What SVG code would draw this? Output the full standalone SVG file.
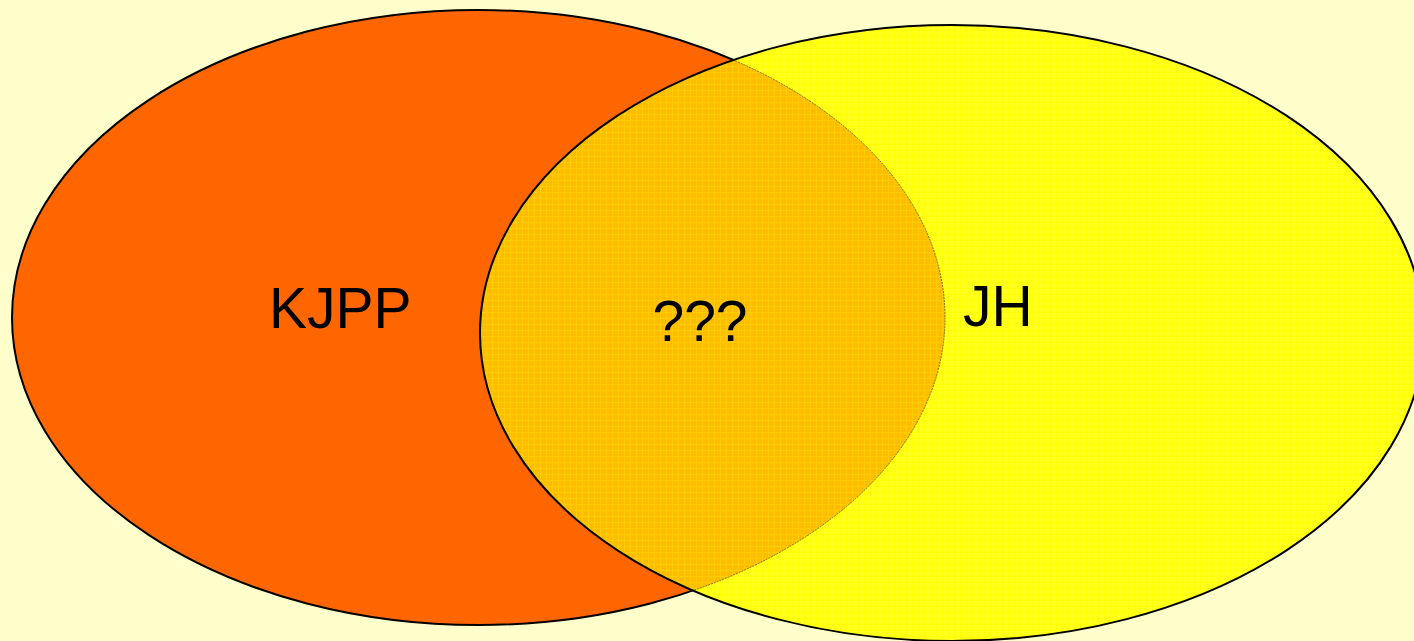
<svg xmlns="http://www.w3.org/2000/svg" width="1414" height="641" viewBox="0 0 1414 641">
<style>
.lbl{font-family:"Liberation Sans",Arial,sans-serif;font-size:57px;fill:#000}
</style>
<defs>
<pattern id="grid" width="6" height="6" patternUnits="userSpaceOnUse">
<rect width="6" height="6" fill="#FFFF22"/>
<rect x="0" y="0" width="1" height="6" fill="#FFFF00"/>
<rect x="0" y="0" width="6" height="1" fill="#FFFF00"/>
</pattern>
<pattern id="grid2" width="6" height="6" patternUnits="userSpaceOnUse">
<rect width="6" height="6" fill="#FFBC00"/>
<rect x="0" y="0" width="1" height="6" fill="#FFCC00"/>
<rect x="0" y="0" width="6" height="1" fill="#FFCC00"/>
</pattern>
<clipPath id="clipY"><ellipse cx="952" cy="333" rx="472" ry="308"/></clipPath>
</defs>
<rect width="1414" height="641" fill="#FFFFCC"/>
<g id="kjpp">
<ellipse cx="478.5" cy="317.5" rx="466.5" ry="307.5" fill="#FF6600" stroke="#000" stroke-width="2"/>
</g>
<g id="jh">
<ellipse cx="952" cy="333" rx="472" ry="308" fill="url(#grid)"/>
</g>
<g id="overlap">
<ellipse cx="478.5" cy="317.5" rx="466.5" ry="307.5" fill="url(#grid2)" stroke="#7A6A00" stroke-width="1" stroke-dasharray="2 1" clip-path="url(#clipY)"/>
</g>
<g id="jh-outline">
<ellipse cx="952" cy="333" rx="472" ry="308" fill="none" stroke="#000" stroke-width="2"/>
</g>
<text class="lbl" x="269" y="328">KJPP</text>
<text class="lbl" x="700" y="341" text-anchor="middle">???</text>
<text class="lbl" x="963" y="326">JH</text>
</svg>
